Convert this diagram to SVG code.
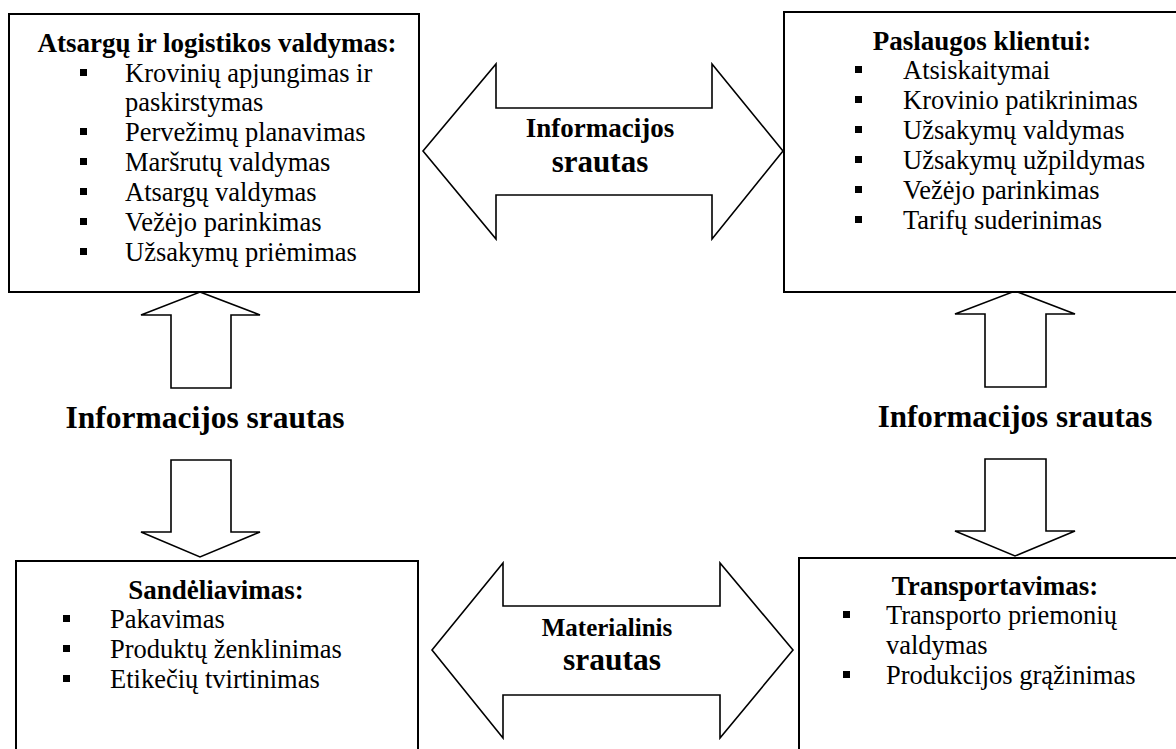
<svg xmlns="http://www.w3.org/2000/svg" width="1176" height="749" viewBox="0 0 1176 749">
<style>
.box{fill:#fff;stroke:#000;stroke-width:2}
.arr{fill:#fff;stroke:#000;stroke-width:1.6;stroke-linejoin:miter}
.t{font-family:"Liberation Serif","Times New Roman",serif;fill:#000}
.h{font-weight:bold;font-size:27px;text-anchor:middle}
.i{font-size:26.5px}
.lbl{font-weight:bold;text-anchor:middle}
.b{fill:#000}
</style>
<rect width="1176" height="749" fill="#fff"/>
<g id="connectors">
  <path class="arr" d="M423,151 L496,64 L496,108 L712,108 L712,64 L783,151 L712,239 L712,195 L496,195 L496,239 Z"/>
  <path class="arr" d="M432,650 L503,563 L503,606 L720,606 L720,563 L793,650 L720,738 L720,695 L503,695 L503,738 Z"/>
  <path class="arr" d="M200,292 L260,315 L231,315 L231,388 L171,388 L171,315 L141,315 Z"/>
  <path class="arr" d="M171,460 L231,460 L231,532 L260,532 L200,557 L141,532 L171,532 Z"/>
  <path class="arr" d="M1015,291 L1075,314 L1046,314 L1046,387 L985,387 L985,314 L955,314 Z"/>
  <path class="arr" d="M985,459 L1046,459 L1046,531 L1075,531 L1015,556 L955,531 L985,531 Z"/>
  <text class="t lbl" x="600" y="137" font-size="27">Informacijos</text>
  <text class="t lbl" x="600" y="172" font-size="31">srautas</text>
  <text class="t lbl" x="607" y="636" font-size="25">Materialinis</text>
  <text class="t lbl" x="612" y="670" font-size="31.5">srautas</text>
  <text class="t lbl" x="205" y="428" font-size="31.5">Informacijos srautas</text>
  <text class="t lbl" x="1015" y="427" font-size="31">Informacijos srautas</text>
</g>
<g id="node-atsargu">
  <rect class="box" x="9" y="14" width="410" height="278"/>
  <text class="t h" x="217" y="52">Atsargų ir logistikos valdymas:</text>
  <rect class="b" x="80" y="69" width="7" height="7"/>
  <text class="t i" x="125" y="82">Krovinių apjungimas ir</text>
  <text class="t i" x="125" y="111">paskirstymas</text>
  <rect class="b" x="80" y="128" width="7" height="7"/>
  <text class="t i" x="125" y="141">Pervežimų planavimas</text>
  <rect class="b" x="80" y="158" width="7" height="7"/>
  <text class="t i" x="125" y="171">Maršrutų valdymas</text>
  <rect class="b" x="80" y="188" width="7" height="7"/>
  <text class="t i" x="125" y="201">Atsargų valdymas</text>
  <rect class="b" x="80" y="218" width="7" height="7"/>
  <text class="t i" x="125" y="231">Vežėjo parinkimas</text>
  <rect class="b" x="80" y="248" width="7" height="7"/>
  <text class="t i" x="125" y="261">Užsakymų priėmimas</text>
</g>
<g id="node-paslaugos">
  <rect class="box" x="784" y="12" width="400" height="280"/>
  <text class="t h" x="982" y="50">Paslaugos klientui:</text>
  <rect class="b" x="855" y="66" width="7" height="7"/>
  <text class="t i" x="903" y="79">Atsiskaitymai</text>
  <rect class="b" x="855" y="96" width="7" height="7"/>
  <text class="t i" x="903" y="109">Krovinio patikrinimas</text>
  <rect class="b" x="855" y="126" width="7" height="7"/>
  <text class="t i" x="903" y="139">Užsakymų valdymas</text>
  <rect class="b" x="855" y="156" width="7" height="7"/>
  <text class="t i" x="903" y="169">Užsakymų užpildymas</text>
  <rect class="b" x="855" y="186" width="7" height="7"/>
  <text class="t i" x="903" y="199">Vežėjo parinkimas</text>
  <rect class="b" x="855" y="216" width="7" height="7"/>
  <text class="t i" x="903" y="229">Tarifų suderinimas</text>
</g>
<g id="node-sandeliavimas">
  <rect class="box" x="16" y="561" width="402" height="200"/>
  <text class="t h" x="216" y="599">Sandėliavimas:</text>
  <rect class="b" x="63" y="615" width="7" height="7"/>
  <text class="t i" x="110" y="628">Pakavimas</text>
  <rect class="b" x="63" y="645" width="7" height="7"/>
  <text class="t i" x="110" y="658">Produktų ženklinimas</text>
  <rect class="b" x="63" y="675" width="7" height="7"/>
  <text class="t i" x="110" y="688">Etikečių tvirtinimas</text>
</g>
<g id="node-transportavimas">
  <rect class="box" x="799" y="558" width="400" height="200"/>
  <text class="t h" x="995" y="595">Transportavimas:</text>
  <rect class="b" x="843" y="611" width="7" height="7"/>
  <text class="t i" x="886" y="624">Transporto priemonių</text>
  <text class="t i" x="886" y="654">valdymas</text>
  <rect class="b" x="843" y="671" width="7" height="7"/>
  <text class="t i" x="886" y="684">Produkcijos grąžinimas</text>
</g>
</svg>
